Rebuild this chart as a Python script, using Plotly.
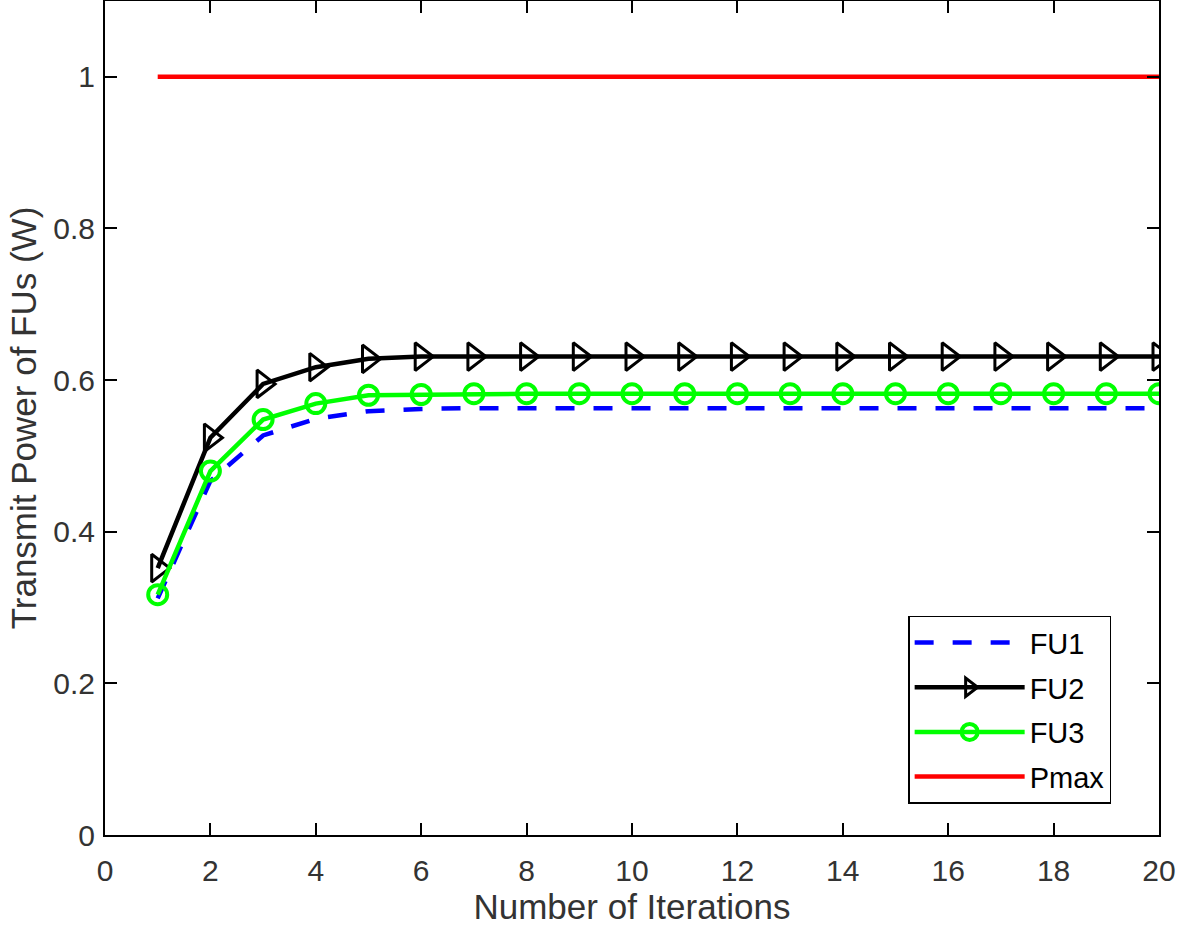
import plotly.graph_objects as go

iterations = list(range(1, 21))
fu1 = [0.312, 0.467, 0.527, 0.549, 0.559, 0.562] + [0.563] * 14
fu2 = [0.352, 0.524, 0.595, 0.617, 0.628, 0.631] + [0.631] * 14
fu3 = [0.317, 0.480, 0.548, 0.569, 0.580, 0.581] + [0.582] * 14
pmax = [1.0] * 20

x_ticks = list(range(0, 21, 2))
y_ticks = [0, 0.2, 0.4, 0.6, 0.8, 1]
y_tick_labels = ["0", "0.2", "0.4", "0.6", "0.8", "1"]

FONT = "Liberation Sans, Arial, Helvetica"

fig = go.Figure()
fig.add_trace(go.Scatter(x=iterations, y=fu1, name="FU1", mode="lines", legendgroup="a",
                         line=dict(color="#0000FF", width=4.5, dash="19px,19px")))
fig.add_trace(go.Scatter(x=iterations, y=fu2, name="FU2", mode="lines+markers", legendgroup="b",
                         line=dict(color="#000000", width=4.5),
                         marker=dict(symbol="triangle-right-open", size=24, color="#000000",
                                     line=dict(width=3, color="#000000"))))
fig.add_trace(go.Scatter(x=iterations, y=fu3, name="FU3", mode="lines+markers", legendgroup="c",
                         line=dict(color="#00FF00", width=4.5),
                         marker=dict(symbol="circle-open", size=19, color="#00FF00",
                                     line=dict(width=4, color="#00FF00"))))
fig.add_trace(go.Scatter(x=iterations, y=pmax, name="Pmax", mode="lines", legendgroup="d",
                         line=dict(color="#FF0000", width=4.5)))

axis_common = dict(showline=True, linecolor="black", linewidth=2, mirror="ticks",
                   ticks="inside", ticklen=12, tickwidth=1.5, tickcolor="black",
                   showgrid=False, zeroline=False,
                   tickfont=dict(family=FONT, size=30, color="#333333"))

fig.update_xaxes(range=[0, 20], tickvals=x_ticks, ticklabelstandoff=8,
                 title=dict(text="Number of Iterations", standoff=4,
                            font=dict(family=FONT, size=35, color="#333333")),
                 **axis_common)
fig.update_yaxes(range=[0, 1.1], tickvals=y_ticks, ticktext=y_tick_labels, ticklabelstandoff=2,
                 title=dict(text="Transmit Power of FUs (W)", standoff=6,
                            font=dict(family=FONT, size=35, color="#333333")),
                 **axis_common)

fig.update_layout(
    width=1178, height=931,
    margin=dict(l=105, r=19, t=1, b=96, autoexpand=False),
    plot_bgcolor="white", paper_bgcolor="white",
    legend=dict(x=0.762, y=0.263, xanchor="left", yanchor="top",
                bordercolor="black", borderwidth=1.5, bgcolor="white",
                font=dict(family=FONT, size=29, color="black"),
                itemwidth=110, tracegroupgap=4),
)

fig.write_html("out.html", config={"displayModeBar": False},
               post_script="document.body.style.margin='0';document.body.style.overflow='hidden';")
